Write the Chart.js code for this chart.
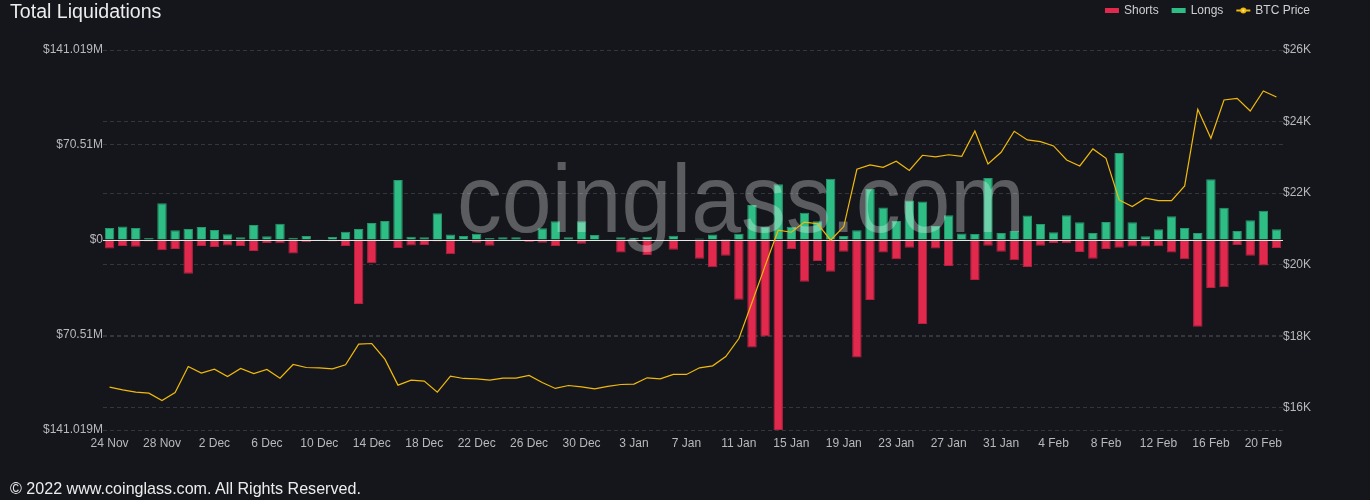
<!DOCTYPE html>
<html>
<head>
<meta charset="utf-8">
<script src="https://cdn.jsdelivr.net/npm/chart.js@4"></script>
<style>
  html, body { margin:0; padding:0; background:#15161b; }
  body { width:1370px; height:500px; position:relative; overflow:hidden; font-family:"Liberation Sans", Arial, sans-serif; }
  #wrap { position:absolute; left:0; top:0; width:1370px; height:500px; }
  #title { position:absolute; left:10px; top:0px; font-size:19.6px; line-height:22px; color:#ececec; }
  #footer { position:absolute; left:10px; top:478px; font-size:16.1px; line-height:20px; color:#ececec; }
</style>
</head>
<body>
<div id="wrap"><canvas id="c" width="1370" height="500"></canvas></div>
<div id="title">Total Liquidations</div>
<div id="footer">© 2022 www.coinglass.com. All Rights Reserved.</div>
<script>
const dates = [
 "24 Nov","25 Nov","26 Nov","27 Nov","28 Nov","29 Nov","30 Nov",
 "1 Dec","2 Dec","3 Dec","4 Dec","5 Dec","6 Dec","7 Dec","8 Dec","9 Dec","10 Dec","11 Dec","12 Dec","13 Dec","14 Dec","15 Dec","16 Dec","17 Dec","18 Dec","19 Dec","20 Dec","21 Dec","22 Dec","23 Dec","24 Dec","25 Dec","26 Dec","27 Dec","28 Dec","29 Dec","30 Dec","31 Dec",
 "1 Jan","2 Jan","3 Jan","4 Jan","5 Jan","6 Jan","7 Jan","8 Jan","9 Jan","10 Jan","11 Jan","12 Jan","13 Jan","14 Jan","15 Jan","16 Jan","17 Jan","18 Jan","19 Jan","20 Jan","21 Jan","22 Jan","23 Jan","24 Jan","25 Jan","26 Jan","27 Jan","28 Jan","29 Jan","30 Jan","31 Jan",
 "1 Feb","2 Feb","3 Feb","4 Feb","5 Feb","6 Feb","7 Feb","8 Feb","9 Feb","10 Feb","11 Feb","12 Feb","13 Feb","14 Feb","15 Feb","16 Feb","17 Feb","18 Feb","19 Feb","20 Feb","21 Feb"
];

// Longs liquidations, $M
const longs = [
 8.9,10.1,8.9,1.5,27.2,7.2,8.2,9.7,7.4,4.2,
 2.0,11.1,2.7,12.1,1.7,3.0,0.5,2.2,6.2,8.2,
 12.6,14.1,44.5,2.5,2.0,19.8,4.0,3.0,4.7,1.5,
 2.0,2.0,0.3,8.7,13.9,2.0,13.9,3.7,0.2,2.0,
 1.7,2.5,0,3.2,0,1.2,4.0,0.7,4.7,26.0,
 9.7,41.3,9.9,20.3,13.9,45.5,3.0,7.2,37.9,24.2,
 14.1,29.4,28.5,10.4,18.3,4.9,4.5,46.0,5.2,6.9,
 18.1,11.9,5.7,18.3,13.1,5.2,13.4,64.6,13.1,2.7,
 7.9,17.6,8.9,5.2,45.0,24.0,6.7,14.6,21.8,7.9
];

// Shorts liquidations, $M (drawn downward)
const shorts = [
 6.4,4.5,5.0,1.2,7.7,6.7,25.0,4.5,5.2,4.0,
 4.5,8.2,2.2,2.5,10.1,1.7,0.5,1.2,4.5,47.5,
 17.3,0.5,5.9,4.0,3.7,1.2,10.6,0.5,2.0,4.2,
 0.3,0.2,1.5,2.0,4.5,1.0,2.7,0.5,0.5,9.2,
 1.2,11.1,0,7.2,0,13.9,20.3,11.6,44.3,79.7,
 71.7,141.019,6.7,30.9,15.6,23.5,8.7,87.3,44.5,9.2,
 14.3,5.7,62.3,6.4,19.3,0.7,29.7,4.2,8.7,15.1,
 20.0,4.2,2.2,2.5,8.9,13.9,6.7,5.7,4.9,4.9,
 4.7,9.2,14.3,64.3,35.6,35.1,3.7,11.6,19.0,5.9
];

// BTC price, USD
const btcPrice = [
 16578,16503,16438,16410,16205,16429,17155,16969,17080,16876,
 17099,16959,17071,16829,17211,17127,17118,17090,17201,17779,
 17797,17360,16634,16773,16746,16438,16885,16820,16810,16773,
 16829,16829,16904,16708,16541,16624,16587,16532,16597,16652,
 16662,16839,16811,16932,16932,17118,17174,17434,17937,18943,
 19967,20963,20907,21190,21145,20684,21066,22667,22788,22723,
 22890,22635,23058,23015,23073,23030,23738,22816,23142,23728,
 23486,23440,23319,22928,22760,23235,22974,21810,21624,21857,
 21792,21792,22202,24343,23533,24603,24650,24296,24855,24687
];

const leftTicks = [141.019, 70.51, 0, -70.51, -141.019];
const rightTicks = [16000, 18000, 20000, 22000, 24000, 26000];
const legendItems = ["Shorts", "Longs", "BTC Price"];
const watermarkText = "coinglass.com";

const RED = "#e1284d", GREEN = "#2ebd85", YELLOW = "#f0b90b";
const RED_B = "#b52041", GREEN_B = "#25996c";
const GRID = "#35363b";
const TICK = "#b9b9bc";
const FONT = '"Liberation Sans", Arial, sans-serif';

const overlayPlugin = {
  id: 'overlay',
  afterDatasetDraw(chart, args) {
    if (args.index !== 0) return;
    const ctx = chart.ctx, a = chart.chartArea;
    const y0 = chart.scales.y.getPixelForValue(0);
    ctx.save();
    ctx.strokeStyle = "#e6e6e6";
    ctx.lineWidth = 1;
    ctx.beginPath();
    ctx.moveTo(a.left, Math.round(y0) + 0.5);
    ctx.lineTo(a.right, Math.round(y0) + 0.5);
    ctx.stroke();
    // watermark
    ctx.font = '97px ' + FONT;
    const w = ctx.measureText(watermarkText).width;
    ctx.translate(741, 232);
    ctx.scale(568 / w, 1);
    ctx.textAlign = 'center';
    ctx.textBaseline = 'alphabetic';
    ctx.fillStyle = 'rgba(255,255,255,0.30)';
    ctx.fillText(watermarkText, 0, 0);
    ctx.restore();
  },
  afterDraw(chart) {
    const ctx = chart.ctx;
    ctx.save();
    ctx.font = '12px ' + FONT;
    ctx.textBaseline = 'middle';
    const cy = 10.5;
    const colors = [RED, GREEN, YELLOW];
    const box = 14, gapT = 5, gapI = 13;
    let total = 0;
    const widths = legendItems.map(t => ctx.measureText(t).width);
    widths.forEach((w, i) => { total += box + gapT + w + (i < widths.length - 1 ? gapI : 0); });
    let x = 1310 - total;
    legendItems.forEach((t, i) => {
      if (i < 2) {
        ctx.fillStyle = colors[i];
        ctx.fillRect(x, cy - 2.5, box, 5);
      } else {
        ctx.strokeStyle = colors[i];
        ctx.lineWidth = 2;
        ctx.beginPath(); ctx.moveTo(x, cy); ctx.lineTo(x + box, cy); ctx.stroke();
        ctx.fillStyle = colors[i];
        ctx.beginPath(); ctx.arc(x + box / 2, cy, 3, 0, Math.PI * 2); ctx.fill();
        ctx.fillStyle = '#fff2c0';
        ctx.beginPath(); ctx.arc(x + box / 2, cy, 1, 0, Math.PI * 2); ctx.fill();
      }
      ctx.fillStyle = '#cfcfd2';
      ctx.fillText(t, x + box + gapT, cy);
      x += box + gapT + widths[i] + gapI;
    });
    ctx.restore();
  }
};

new Chart(document.getElementById('c'), {
  type: 'bar',
  data: {
    labels: dates,
    datasets: [
      { type:'bar', label:'Shorts', data: shorts.map(v => -v), backgroundColor: RED, borderColor: RED_B, borderWidth: 1,
        yAxisID:'y', stack:'liq', order:1, categoryPercentage:1, barPercentage:0.72 },
      { type:'bar', label:'Longs', data: longs, backgroundColor: GREEN, borderColor: GREEN_B, borderWidth: 1,
        yAxisID:'y', stack:'liq', order:1, categoryPercentage:1, barPercentage:0.72 },
      { type:'line', label:'BTC Price', data: btcPrice, borderColor: YELLOW, borderWidth: 1.2,
        pointRadius: 0, tension: 0, yAxisID:'y1', order:0 }
    ]
  },
  options: {
    responsive: false,
    animation: false,
    devicePixelRatio: 1,
    layout: { padding: { top: 50, left: 0, right: 0, bottom: 0 } },
    plugins: { legend: { display: false }, tooltip: { enabled: false }, title: { display: false } },
    scales: {
      x: {
        stacked: true,
        grid: { display: false, drawTicks: false },
        border: { display: false },
        ticks: {
          autoSkip: false, maxRotation: 0, minRotation: 0, padding: 6,
          color: TICK, font: { family: FONT, size: 12 },
          callback: (v, i) => (i % 4 === 0 ? dates[i] : '')
        },
        afterFit: s => { s.height = 70; }
      },
      y: {
        stacked: true,
        position: 'left',
        min: -141.019, max: 141.019,
        afterBuildTicks: s => { s.ticks = leftTicks.map(v => ({ value: v })); },
        ticks: {
          padding: 0, color: TICK, font: { family: FONT, size: 12 },
          callback: v => (v === 0 ? '$0' : '$' + Math.abs(v) + 'M')
        },
        grid: { color: GRID, drawTicks: false, lineWidth: 1 },
        border: { display: false, dash: [4, 3] },
        afterFit: s => { s.width = 103; }
      },
      y1: {
        position: 'right',
        min: 15380, max: 26000,
        afterBuildTicks: s => { s.ticks = rightTicks.map(v => ({ value: v })); },
        ticks: {
          padding: 0, color: TICK, font: { family: FONT, size: 12 },
          callback: v => '$' + (v / 1000) + 'K'
        },
        grid: { color: GRID, drawTicks: false, lineWidth: 1 },
        border: { display: false, dash: [4, 3] },
        afterFit: s => { s.width = 87; }
      }
    }
  },
  plugins: [overlayPlugin]
});
</script>
</body>
</html>
